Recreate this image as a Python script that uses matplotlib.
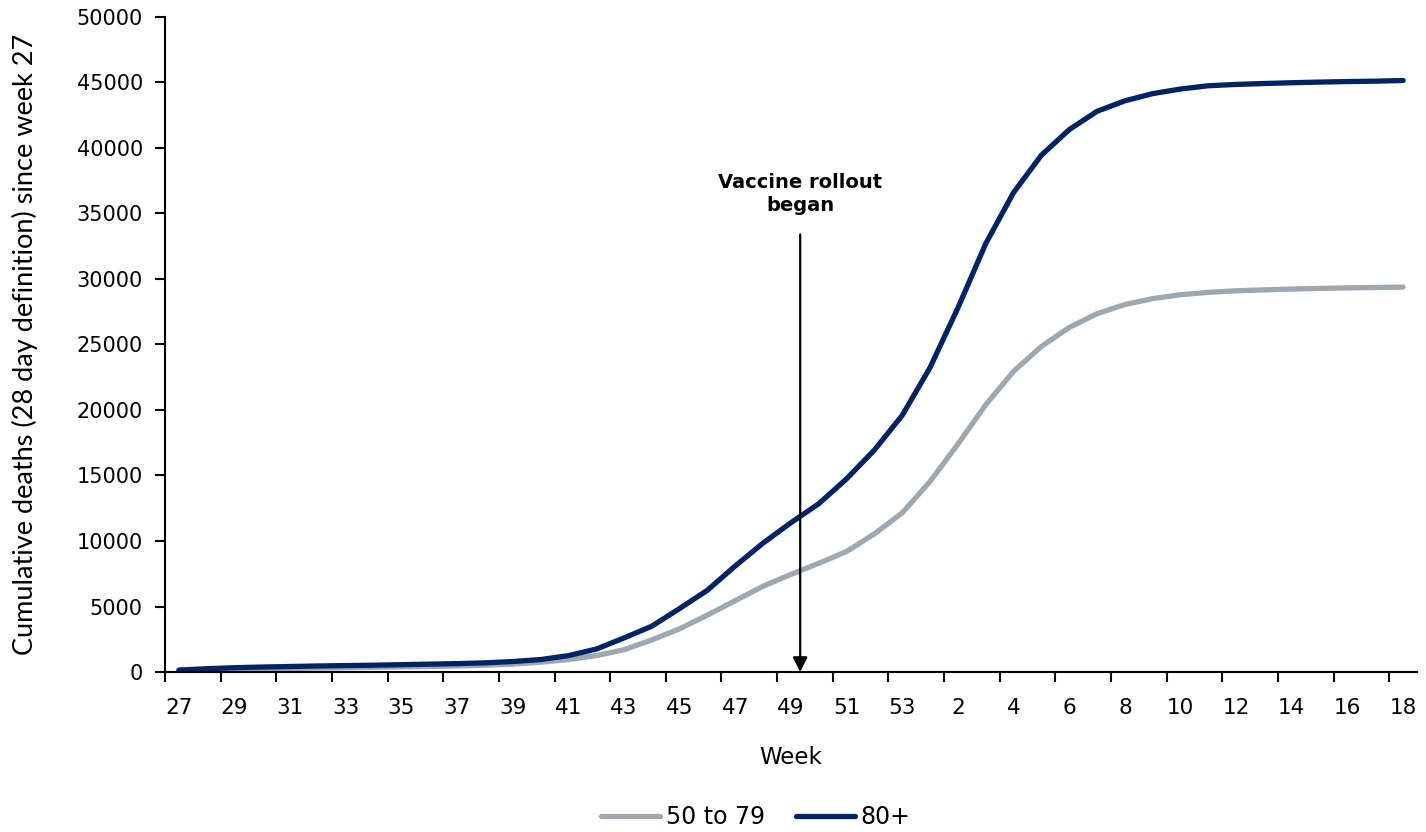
import matplotlib
matplotlib.use("Agg")
import matplotlib.pyplot as plt
import numpy as np
from matplotlib.ticker import FixedLocator, NullFormatter

# ISO weeks from 27 (2020) through 18 (2021)
weeks = list(range(27, 54)) + list(range(1, 19))

deaths_50_79 = [50, 120, 180, 230, 270, 300, 330, 360, 390, 420, 460, 520, 600,
                750, 950, 1250, 1700, 2450, 3300, 4350, 5450, 6550, 7450, 8300,
                9200, 10550, 12150,
                14550, 17400, 20400, 22950, 24850, 26300, 27350, 28050, 28500,
                28800, 28980, 29100, 29170, 29230, 29280, 29320, 29350, 29380]

deaths_80_plus = [150, 250, 330, 380, 420, 460, 490, 520, 560, 600, 640, 700, 800,
                  950, 1250, 1750, 2600, 3500, 4850, 6250, 8100, 9850, 11400, 12850,
                  14750, 16950, 19600,
                  23250, 27800, 32700, 36600, 39450, 41400, 42800, 43600, 44150,
                  44500, 44750, 44850, 44920, 44980, 45030, 45070, 45100, 45150]

# vaccine rollout fell between week 49 and week 50
rollout_pos = 22.33

c_grey = "#9DA8B1"
c_navy = "#002366"

fig = plt.figure(figsize=(14.26, 8.32), dpi=100)
ax = fig.add_axes([0.1157, 0.1923, 0.878, 0.7873])

x = np.arange(len(weeks))
ax.plot(x, deaths_50_79, color=c_grey, lw=3.8, solid_capstyle="round",
        solid_joinstyle="round", label="50 to 79")
ax.plot(x, deaths_80_plus, color=c_navy, lw=3.8, solid_capstyle="round",
        solid_joinstyle="round", label="80+")

ax.set_xlim(-0.5, len(weeks) - 0.5)
ax.set_ylim(0, 50000)
ax.set_yticks(np.arange(0, 50001, 5000))

# tick marks sit between categories, labels on every other week
ax.xaxis.set_major_locator(FixedLocator(np.arange(-0.5, len(weeks), 2)))
ax.xaxis.set_major_formatter(NullFormatter())
ax.xaxis.set_minor_locator(FixedLocator(x[::2]))
ax.set_xticklabels([str(w) for w in weeks[::2]], minor=True)

for side in ["top", "right"]:
    ax.spines[side].set_visible(False)
for side in ["left", "bottom"]:
    ax.spines[side].set_linewidth(1.5)
    ax.spines[side].set_color("black")

ax.tick_params(axis="x", which="major", length=7, width=1.5, direction="out")
ax.tick_params(axis="x", which="minor", length=0, pad=19, labelsize=15.5)
ax.tick_params(axis="y", length=7, width=1.5, direction="out", pad=9, labelsize=15)
for lab in ax.get_xticklabels(minor=True) + ax.get_yticklabels():
    lab.set_family("DejaVu Sans")

ax.set_xlabel("Week", family="DejaVu Sans", fontsize=16.5, labelpad=20)
ax.set_ylabel("Cumulative deaths (28 day definition) since week 27",
              family="Lato", fontsize=19.5, labelpad=28)

ax.annotate("", xy=(rollout_pos, 0), xytext=(rollout_pos, 33400),
            arrowprops=dict(arrowstyle="-|>", lw=1.6, color="black",
                            mutation_scale=22, shrinkA=0, shrinkB=0))
ax.text(rollout_pos, 36500, "Vaccine rollout\nbegan", ha="center", va="center",
        multialignment="center", fontsize=14, fontweight="bold",
        family="DejaVu Sans", linespacing=1.25)

leg = fig.legend(loc="center", bbox_to_anchor=(0.53, 0.018), ncol=2, frameon=False,
                 handlelength=2.5, handletextpad=0.25, columnspacing=1.3,
                 prop={"family": "DejaVu Sans", "size": 17})

fig.savefig("out.png", dpi=100, facecolor="white")
